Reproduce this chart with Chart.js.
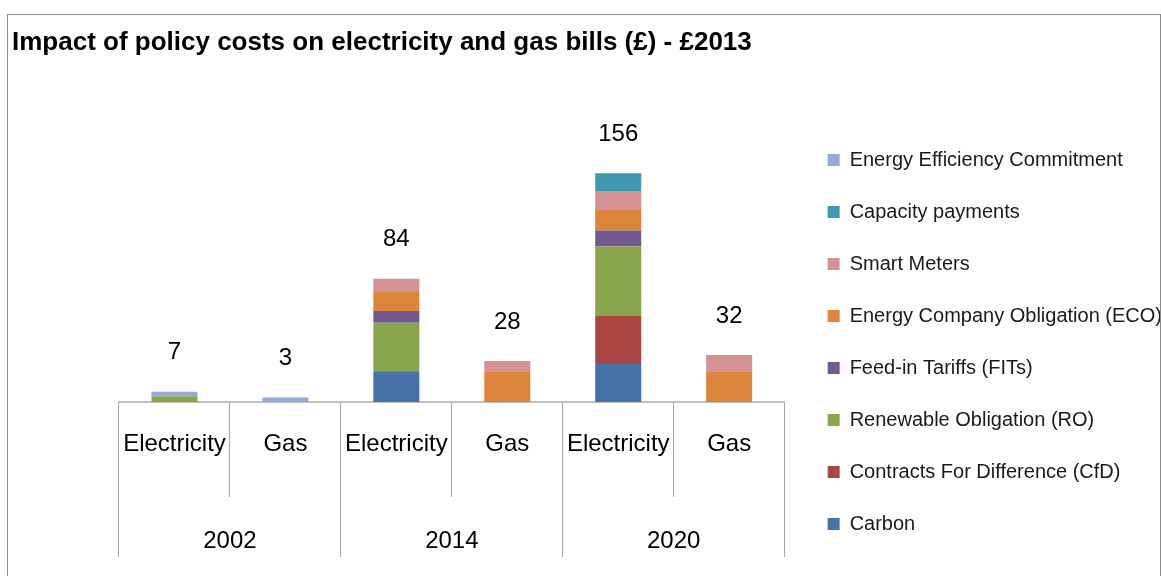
<!DOCTYPE html>
<html>
<head>
<meta charset="utf-8">
<script src="https://cdn.jsdelivr.net/npm/chart.js@4.4.0/dist/chart.umd.min.js"></script>
<style>
  html, body { margin: 0; padding: 0; background: #fff; overflow: hidden; }
  #frame { position: absolute; left: 7px; top: 14px; width: 1154px; height: 600px; border: 1px solid #8c8c8c; box-sizing: border-box; overflow: hidden; }
  #wrap { position: absolute; left: 0; top: 0; width: 1164px; height: 561px; }
</style>
</head>
<body>
<div id="frame"><div id="wrap"><canvas id="chart"></canvas></div></div>
<script>
// categories on the axis
const categories = ['Electricity', 'Gas', 'Electricity', 'Gas', 'Electricity', 'Gas'];
const years = ['2002', '2014', '2020'];

// policy cost components (£)
const carbon      = [0, 0, 21, 0, 26, 0];
const cfd         = [0, 0, 0, 0, 33, 0];
const ro          = [4, 0, 33, 0, 47, 0];
const fits        = [0, 0, 8, 0, 11, 0];
const eco         = [0, 0, 13, 21, 14, 21];
const smartMeters = [0, 0, 9, 7, 13, 11];
const capacity    = [0, 0, 0, 0, 12, 0];
const eec         = [3, 3, 0, 0, 0, 0];

// totals printed over each bar
const totals = [7, 3, 84, 28, 156, 32];

const FONT = '"Liberation Sans", Arial, sans-serif';
const GRID = '#a6a6a6';

// draws the total above each stack
const totalLabels = {
  id: 'totalLabels',
  afterDatasetsDraw(chart) {
    const { ctx } = chart;
    const x = chart.scales.x, y = chart.scales.y;
    ctx.save();
    ctx.font = '24px ' + FONT;
    ctx.fillStyle = '#000';
    ctx.textAlign = 'center';
    ctx.textBaseline = 'middle';
    totals.forEach((t, i) => {
      ctx.fillText(String(t), x.getPixelForValue(i), y.getPixelForValue(t) - 39);
    });
    ctx.restore();
  }
};

const ds = (label, data, color) => ({
  label, data, backgroundColor: color, borderWidth: 0,
  barPercentage: 0.415, categoryPercentage: 1
});

new Chart(document.getElementById('chart'), {
  type: 'bar',
  data: {
    labels: categories,
    datasets: [
      ds('Carbon', carbon, '#4572a7'),
      ds('Contracts For Difference (CfD)', cfd, '#aa4644'),
      ds('Renewable Obligation (RO)', ro, '#89a54e'),
      ds('Feed-in Tariffs (FITs)', fits, '#725a91'),
      ds('Energy Company Obligation (ECO)', eco, '#dd843d'),
      ds('Smart Meters', smartMeters, '#d49293'),
      ds('Capacity payments', capacity, '#4198af'),
      ds('Energy Efficiency Commitment', eec, '#94aad4')
    ]
  },
  options: {
    responsive: true,
    maintainAspectRatio: false,
    animation: false,
    layout: { padding: { left: 4, right: 0, top: 0, bottom: 10 } },
    plugins: {
      title: {
        display: true,
        text: 'Impact of policy costs on electricity and gas bills (£) - £2013',
        align: 'start',
        color: '#000',
        font: { family: FONT, size: 26, weight: 'bold' },
        padding: { top: 12, bottom: 0 }
      },
      legend: {
        position: 'right',
        reverse: true,
        align: 'end',
        maxWidth: 400,
        labels: {
          boxWidth: 12, boxHeight: 12, padding: 32,
          color: '#1a1a1a',
          font: { family: FONT, size: 20 }
        }
      },
      tooltip: { enabled: false }
    },
    scales: {
      x: {
        stacked: true,
        offset: true,
        weight: 0,
        grid: { offset: true, drawOnChartArea: false, drawTicks: true, tickLength: 95, color: GRID },
        border: { display: true, color: '#bfbfbf', width: 2 },
        ticks: { color: '#000', font: { family: FONT, size: 24 }, padding: -67 },
        afterFit(scale) { scale.height = 95; }
      },
      x2: {
        type: 'category',
        labels: years,
        position: 'bottom',
        offset: true,
        weight: 1,
        grid: { offset: true, drawOnChartArea: false, drawTicks: true, tickLength: 60, color: GRID },
        border: { display: false },
        ticks: { color: '#000', font: { family: FONT, size: 24 }, padding: -30 },
        afterFit(scale) { scale.height = 69; }
      },
      y: {
        stacked: true,
        min: 0,
        max: 234.5,
        grid: { display: false },
        border: { display: false },
        ticks: { display: false },
        afterFit(scale) { scale.width = 107; }
      },
      y2: {
        type: 'linear',
        position: 'right',
        grid: { display: false },
        border: { display: false },
        ticks: { display: false },
        afterFit(scale) { scale.width = 11; }
      }
    }
  },
  plugins: [totalLabels]
});
</script>
</body>
</html>
